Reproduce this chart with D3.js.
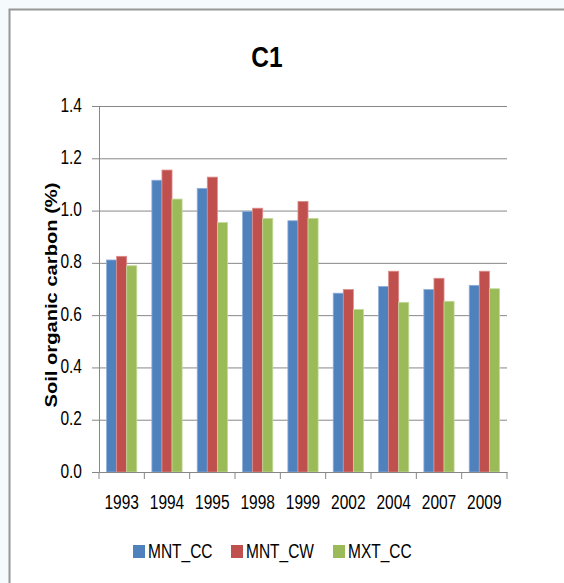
<!DOCTYPE html>
<html>
<head>
<meta charset="utf-8">
<script src="https://cdn.jsdelivr.net/npm/d3@7"></script>
<style>
  body { margin: 0; background: #f5fbfc; }
  svg { display: block; }
  text { font-family: "Liberation Sans", Arial, sans-serif; fill: #000; }
</style>
</head>
<body>
<div id="chart"></div>
<script>
// data
const years = ['1993', '1994', '1995', '1998', '1999', '2002', '2004', '2007', '2009']
const seriesNames = ['MNT_CC', 'MNT_CW', 'MXT_CC']
const mntCC = [0.811, 1.116, 1.085, 0.997, 0.961, 0.684, 0.710, 0.698, 0.714]
const mntCW = [0.825, 1.155, 1.128, 1.009, 1.035, 0.698, 0.768, 0.741, 0.768]
const mxtCC = [0.789, 1.044, 0.954, 0.970, 0.970, 0.622, 0.649, 0.653, 0.701]
const yTicks = [0, 0.2, 0.4, 0.6, 0.8, 1.0, 1.2, 1.4]

const colors = ['#4f81bd', '#c0504d', '#9bbb59']
const strokes = ['#8eaedb', '#dc8d8b', '#c3d89c']
const width = 564
const height = 583
// the picture is stretched vertically, so is the text
const stretch = 1.27
const fontSize = '15.5px'

const svg = d3.select('#chart').append('svg')
    .attr('width', width)
    .attr('height', height)

// chart area, only left and top edge are in the picture
svg.append('rect')
    .attr('x', 10.5).attr('y', 10.5)
    .attr('width', width - 10.5).attr('height', height - 10.5)
    .attr('fill', '#fff')
svg.append('path')
    .attr('d', `M9.5,${height} V9.5 H${width}`)
    .attr('fill', 'none')
    .attr('stroke', '#979797')
    .attr('stroke-width', 2)

const margin = { top: 106, left: 99, right: 57, bottom: 111 }
const innerWidth = width - margin.left - margin.right
const innerHeight = height - margin.top - margin.bottom

const g = svg.append('g')
    .attr('transform', `translate(${margin.left}, ${margin.top})`)

const xScale = d3.scaleBand().domain(years).range([0, innerWidth])
const bw = xScale.bandwidth()
// gap width 150% -> 1/6 of the band on each side
const xInner = d3.scaleBand().domain(seriesNames).range([bw / 6, bw * 5 / 6])
const yScale = d3.scaleLinear().domain([0, 1.4]).range([innerHeight, 0])

//gridlines
const grid = g.append('g')
    .call(d3.axisLeft(yScale).tickValues(yTicks.slice(1)).tickSize(-innerWidth).tickFormat(''))
grid.select('.domain').remove()
grid.selectAll('line').attr('stroke', '#878787')

//y axis, labels are drawn below
const yAxisG = g.append('g')
    .call(d3.axisLeft(yScale).tickValues(yTicks).tickSize(7).tickSizeOuter(0).tickFormat(''))
yAxisG.select('.domain').attr('stroke', '#878787')
yAxisG.selectAll('line').attr('stroke', '#878787')

g.selectAll('.ylabel').data(yTicks).enter().append('text')
    .attr('class', 'ylabel')
    .attr('text-anchor', 'end')
    .attr('transform', d => `translate(-17, ${yScale(d) + 5.5}) scale(1, ${stretch})`)
    .style('font-size', fontSize)
    .text(d3.format('.1f'))

//bars
const table = years.map((year, i) => ({ year, values: [mntCC[i], mntCW[i], mxtCC[i]] }))
const groups = g.selectAll('.yeargroup').data(table).enter().append('g')
    .attr('class', 'yeargroup')
    .attr('transform', d => `translate(${xScale(d.year)}, 0)`)
groups.selectAll('rect')
    .data(d => d.values.map((v, k) => ({ name: seriesNames[k], value: v, k })))
    .enter().append('rect')
    .attr('x', d => xInner(d.name))
    .attr('y', d => yScale(d.value))
    .attr('width', xInner.bandwidth())
    .attr('height', d => innerHeight - yScale(d.value))
    .attr('fill', d => colors[d.k])
    .attr('stroke', d => strokes[d.k])
    .attr('stroke-width', 0.8)

//x axis line
const xAxisG = g.append('g')
    .attr('transform', `translate(0, ${innerHeight})`)
    .call(d3.axisBottom(xScale).tickSize(0).tickFormat(''))
xAxisG.select('.domain').attr('stroke', '#878787')
// tick marks sit between the categories
const boundaries = years.map(y => xScale(y)).concat([innerWidth])
xAxisG.selectAll('.boundary').data(boundaries).enter().append('line')
    .attr('class', 'boundary')
    .attr('x1', d => d).attr('x2', d => d)
    .attr('y1', 0).attr('y2', 7)
    .attr('stroke', '#878787')

g.selectAll('.xlabel').data(years).enter().append('text')
    .attr('class', 'xlabel')
    .attr('text-anchor', 'middle')
    .attr('transform', d => `translate(${xScale(d) + bw / 2}, ${innerHeight + 37}) scale(1, ${stretch})`)
    .style('font-size', fontSize)
    .text(d => d)

//title
svg.append('text')
    .attr('transform', `translate(267, 67) scale(1, 1.2)`)
    .attr('text-anchor', 'middle')
    .style('font-size', '24.5px')
    .style('font-weight', 'bold')
    .text('C1')

//y label
svg.append('text')
    .attr('transform', `translate(56.5, 295) rotate(-90) scale(1.26, 1)`)
    .attr('text-anchor', 'middle')
    .style('font-size', '16px')
    .style('font-weight', 'bold')
    .text('Soil organic carbon (%)')

//legend
const legendX = [133, 231, 333]
const legend = svg.selectAll('.legend').data(seriesNames).enter().append('g')
    .attr('class', 'legend')
    .attr('transform', (d, i) => `translate(${legendX[i]}, 545)`)
legend.append('rect')
    .attr('width', 12).attr('height', 13)
    .attr('fill', (d, i) => colors[i])
legend.append('text')
    .attr('transform', `translate(15, 13) scale(1, ${stretch})`)
    .style('font-size', fontSize)
    .text(d => d)
</script>
</body>
</html>
